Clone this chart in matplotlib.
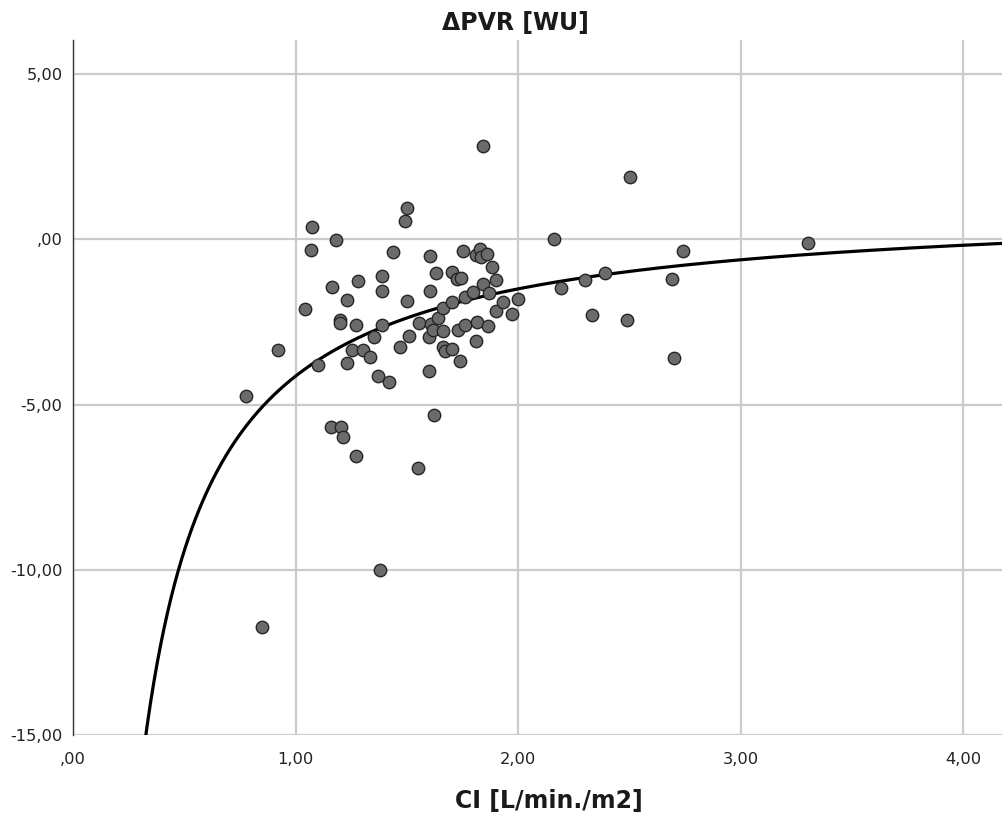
import matplotlib
matplotlib.use("Agg")
import matplotlib.pyplot as plt
import numpy as np
from matplotlib.ticker import FuncFormatter

# CI [L/min./m2] and delta PVR [WU]
ci = [0.779, 0.850, 0.922, 1.042, 1.072, 1.070, 1.100, 1.180, 1.162, 1.159,
      1.200, 1.200, 1.203, 1.214, 1.229, 1.229, 1.271, 1.271, 1.280, 1.252,
      1.301, 1.332, 1.352, 1.370, 1.379, 1.389, 1.389, 1.389, 1.420, 1.438,
      1.470, 1.491, 1.500, 1.500, 1.510, 1.551, 1.553, 1.603, 1.604, 1.601,
      1.597, 1.620, 1.608, 1.616, 1.630, 1.640, 1.663, 1.663, 1.660, 1.670,
      1.701, 1.701, 1.701, 1.725, 1.743, 1.729, 1.740, 1.751, 1.760, 1.760,
      1.799, 1.810, 1.815, 1.810, 1.829, 1.832, 1.840, 1.840, 1.861, 1.862,
      1.868, 1.880, 1.900, 1.900, 1.931, 1.972, 2.000, 2.159, 2.190, 2.301,
      2.330, 2.390, 2.490, 2.502, 2.691, 2.700, 2.739, 3.302]
dpvr = [-4.74, -11.73, -3.34, -2.10, 0.37, -0.32, -3.80, -0.02, -1.43, -5.67,
        -2.44, -2.54, -5.67, -5.99, -1.85, -3.75, -2.60, -6.57, -1.25, -3.35,
        -3.35, -3.57, -2.97, -4.13, -10.02, -1.11, -1.58, -2.58, -4.32, -0.38,
        -3.27, 0.56, 0.95, -1.87, -2.94, -6.91, -2.53, -0.52, -1.57, -2.97,
        -4.00, -5.31, -2.56, -2.76, -1.03, -2.39, -2.07, -2.77, -3.27, -3.38,
        -3.33, -1.91, -1.00, -1.21, -1.18, -2.73, -3.68, -0.35, -1.74, -2.59,
        -1.60, -3.07, -2.50, -0.48, -0.29, -0.55, 2.81, -1.36, -0.46, -2.62,
        -1.62, -0.83, -1.23, -2.16, -1.90, -2.26, -1.81, 0.00, -1.47, -1.24,
        -2.29, -1.01, -2.45, 1.89, -1.19, -3.60, -0.35, -0.10]

# inverse model fit shown in the reference: y = b0 + b1 / x
b0 = 1.14
b1 = -5.28

fig = plt.figure(figsize=(10.02, 8.25), dpi=100)
ax = fig.add_axes([73 / 1002, 1 - 735 / 825, 1 - 73 / 1002, (735 - 40) / 825])

ax.set_xlim(0, 4.173)
ax.set_ylim(-15, 6.03)
ax.set_xticks([0, 1, 2, 3, 4])
ax.set_yticks([5, 0, -5, -10, -15])


def spss_fmt(v, pos):
    s = f"{v:.2f}".replace(".", ",")
    if s.startswith("0,"):
        s = s[1:]
    elif s.startswith("-0,"):
        s = "-" + s[2:]
    return s


ax.xaxis.set_major_formatter(FuncFormatter(spss_fmt))
ax.yaxis.set_major_formatter(FuncFormatter(spss_fmt))
ax.tick_params(length=0, labelsize=11.7, colors="#222222")
ax.tick_params(axis="x", pad=12)
ax.tick_params(axis="y", pad=7.5)

ax.grid(True, color="#cbcbcb", linewidth=1.6)
ax.set_axisbelow(True)
for side in ["top", "right", "bottom"]:
    ax.spines[side].set_visible(False)
ax.spines["left"].set_color("#333333")
ax.spines["left"].set_linewidth(1.0)

xs = np.linspace(0.3, 4.2, 500)
ax.plot(xs, b0 + b1 / xs, color="black", linewidth=2.3, zorder=2)

ax.scatter(ci, dpvr, s=80, facecolor="#6b6b6b", edgecolor="#262626",
           linewidth=1.0, zorder=3)

fig.text(515 / 1002, 1 - 23 / 825, "ΔPVR [WU]", ha="center", va="center",
         fontsize=17, fontweight="bold", color="#1a1a1a")
fig.text(549 / 1002, 1 - 801 / 825, "CI [L/min./m2]", ha="center", va="center",
         fontsize=17, fontweight="bold", color="#1a1a1a")

fig.savefig("out.png", dpi=100)
